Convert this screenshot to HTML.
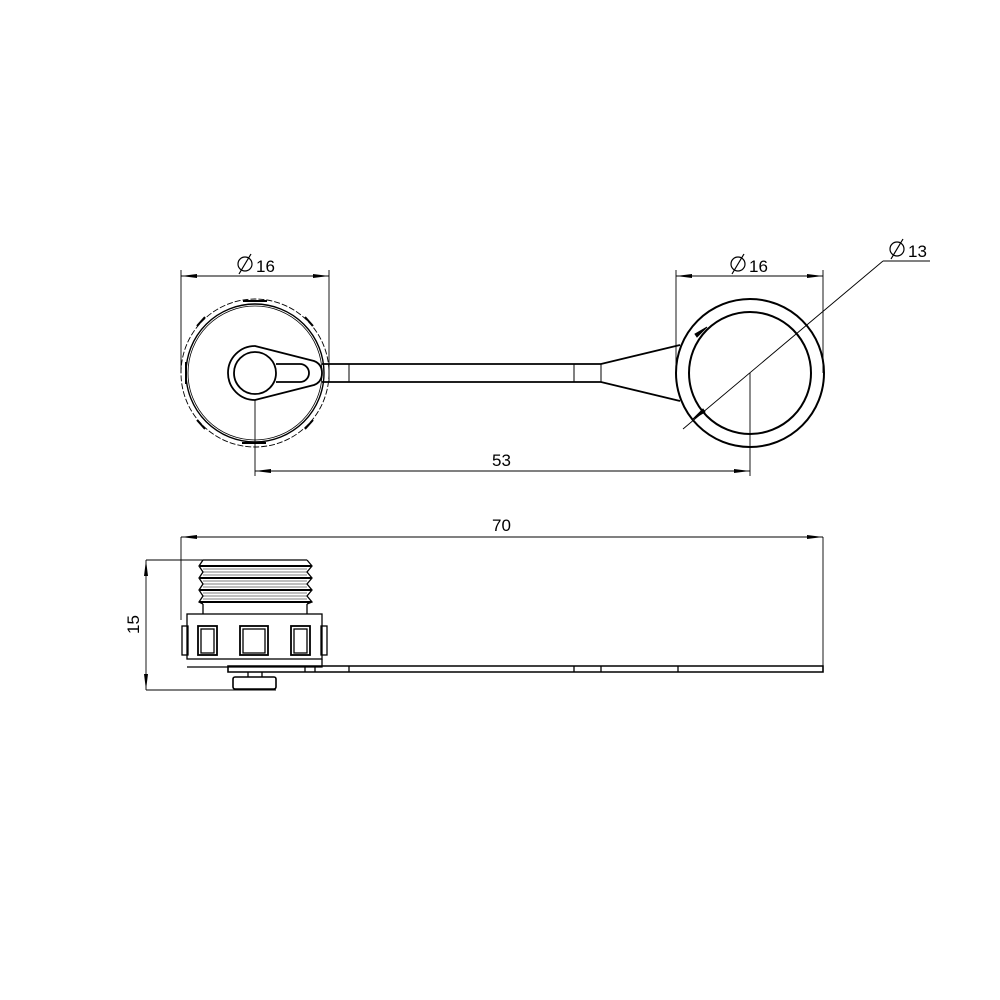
<!DOCTYPE html>
<html><head><meta charset="utf-8"><style>html,body{margin:0;padding:0;background:#fff}svg{display:block}</style></head>
<body>
<svg width="1000" height="1000" viewBox="0 0 1000 1000" xmlns="http://www.w3.org/2000/svg" font-family="Liberation Sans, DejaVu Sans, sans-serif">
<defs>
<marker id="a" markerWidth="16" markerHeight="8" refX="16" refY="4" orient="auto-start-reverse" markerUnits="userSpaceOnUse"><path d="M0,2 L16,4 L0,6Z" fill="#000"/></marker>
</defs>
<g fill="none" stroke="#000">
<!-- Left top view -->
<g stroke-width="0.9">
<line x1="181" y1="373" x2="181" y2="270"/><line x1="329" y1="373" x2="329" y2="270"/>
<line x1="181" y1="276" x2="329" y2="276" marker-start="url(#a)" marker-end="url(#a)"/>
</g>
<circle cx="255" cy="373" r="74" stroke-width="0.9" stroke-dasharray="6,2"/>
<circle cx="255" cy="373" r="69" stroke-width="1.4"/>
<circle cx="255" cy="373" r="67" stroke-width="0.8"/>
<g stroke-width="2">
<path d="M243,301 h24 M242,443 h24 M186,362 v22 M205,317 l-8,9 M305,317 l8,9 M205,429 l-8,-9 M305,429 l8,-9"/>
</g>
<path d="M255,346 L314,361 Q322,364 322,373 Q322,382 314,385 L255,400 A27,27 0 0 1 255,346Z" stroke-width="1.8"/>
<circle cx="255" cy="373" r="21" stroke-width="1.8"/>
<path d="M276,364 H300 A9,9 0 0 1 300,382 H276" stroke-width="1.8"/>
<!-- strap -->
<path d="M322,364 H601 L680,345 M322,382 H601 L680,401" stroke-width="1.8"/>
<line x1="329" y1="364" x2="329" y2="382" stroke-width="1"/>
<line x1="349" y1="364" x2="349" y2="382" stroke-width="1"/>
<line x1="574" y1="364" x2="574" y2="382" stroke-width="1"/>
<line x1="601" y1="364" x2="601" y2="382" stroke-width="1"/>
<!-- right ring -->
<circle cx="750" cy="373" r="74" stroke-width="2"/>
<circle cx="750" cy="373" r="61" stroke-width="2"/>
<g stroke-width="0.9">
<line x1="676" y1="373" x2="676" y2="270"/><line x1="823" y1="373" x2="823" y2="270"/>
<line x1="676" y1="276" x2="823" y2="276" marker-start="url(#a)" marker-end="url(#a)"/>
<line x1="683" y1="429" x2="883" y2="261"/>
<line x1="883" y1="261" x2="930" y2="261"/>
<line x1="255" y1="400" x2="255" y2="476"/><line x1="750" y1="373" x2="750" y2="476"/>
<line x1="255" y1="471" x2="750" y2="471" marker-start="url(#a)" marker-end="url(#a)"/>
</g>
<path d="M707,327 L697,337 L695,334Z M693,419 L703,409 L705,412Z" fill="#000" stroke-width="1"/>
<!-- side view -->
<g stroke-width="0.9">
<line x1="181" y1="537" x2="823" y2="537" marker-start="url(#a)" marker-end="url(#a)"/>
<line x1="181" y1="537" x2="181" y2="620"/><line x1="823" y1="537" x2="823" y2="672"/>
<line x1="146" y1="560" x2="146" y2="690" marker-start="url(#a)" marker-end="url(#a)"/>
<line x1="146" y1="560" x2="305" y2="560"/><line x1="146" y1="690" x2="276" y2="690"/>
</g>
<g stroke-width="1.3">
<path d="M203,560 H307 M203,560 L199,566 L203,572 L199,578 L203,584 L199,590 L203,596 L199,602 L203,604 M307,560 L312,566 L307,572 L312,578 L307,584 L312,590 L307,596 L312,602 L307,604"/>
<path d="M200,566 H311 M200,578 H311 M200,590 H311 M200,602 H311" stroke-width="2"/>
<path d="M203,569 H307 M203,572 H307 M203,575 H307 M203,581 H307 M203,584 H307 M203,587 H307 M203,593 H307 M203,596 H307 M203,599 H307" stroke-width="0.6"/>
<path d="M203,604 V614 M307,604 V614"/>
<rect x="187" y="614" width="135" height="45"/>
<path d="M187,667 H322 V659"/>
<rect x="182" y="626" width="6" height="29"/><rect x="321" y="626" width="6" height="29"/>
<rect x="198" y="626" width="19" height="29" stroke-width="1.8"/><rect x="201" y="629" width="13" height="24"/>
<rect x="240" y="626" width="28" height="29" stroke-width="1.8"/><rect x="243" y="629" width="22" height="24"/>
<rect x="291" y="626" width="19" height="29" stroke-width="1.8"/><rect x="294" y="629" width="13" height="24"/>
<path d="M228,666 H823 V672 H228Z" stroke-width="1.6"/>
<path d="M305,666 V672 M315,666 V672 M349,666 V672 M574,666 V672 M601,666 V672 M678,666 V672"/>
<path d="M248,672 V677 M262,672 V677"/>
<rect x="233" y="677" width="43" height="12" rx="2" stroke-width="1.6"/>
</g>
</g>
<g font-size="17" fill="#000">
<text x="256" y="272">16</text><text x="749" y="272">16</text><text x="908" y="257">13</text>
<text x="492" y="466">53</text><text x="492" y="531">70</text>
<text transform="translate(139,634) rotate(-90)">15</text>
</g>
<g fill="none" stroke="#000" stroke-width="1.2">
<circle cx="245" cy="264" r="7"/><line x1="239" y1="274" x2="251" y2="254"/>
<circle cx="738" cy="264" r="7"/><line x1="732" y1="274" x2="744" y2="254"/>
<circle cx="897" cy="249" r="7"/><line x1="891" y1="259" x2="903" y2="239"/>
</g>
</svg>
</body></html>
